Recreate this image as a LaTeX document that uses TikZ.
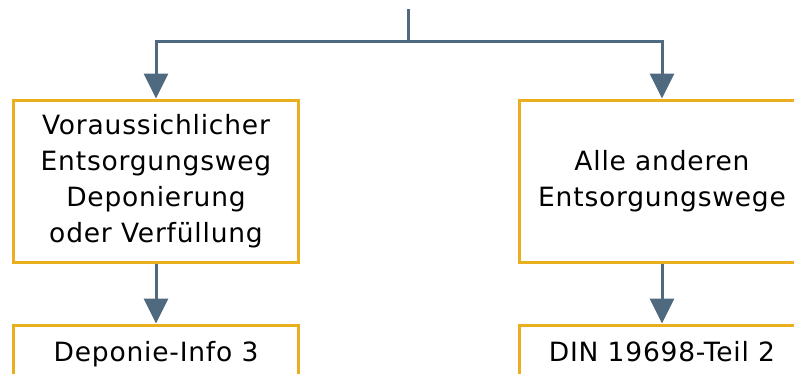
\documentclass[tikz,border=0pt]{standalone}
\usepackage{fontspec}
\setmainfont{DejaVu Sans}[LetterSpace=3]
\usetikzlibrary{positioning, arrows.meta}
\definecolor{boxorange}{HTML}{E9AF1F}
\definecolor{flowgray}{HTML}{4F6A7F}
\tikzset{
	box/.style={draw=boxorange, line width=3pt, minimum width=285pt, minimum height=162pt, inner sep=0pt, align=center, font=\fontsize{26.5}{36}\selectfont}, % the yellow frames
	lowbox/.style={box, minimum height=0pt, inner ysep=17pt, text height=19pt, text depth=60pt}, % frames cut off at the bottom
	flow/.style={draw=flowgray, line width=3pt, -{Triangle[width=24pt, length=25pt]}}, % the grey arrows
}
\begin{document}
\begin{tikzpicture}[x=1pt, y=-1pt]
	\useasboundingbox (0,0) rectangle (794,373);
	\clip (0,0) rectangle (794,373);
	\node[box] (disposal) at (156,181) {Voraussichlicher\\Entsorgungsweg\\Deponierung\\oder Verfüllung};
	\node[box, right=218pt of disposal] (others) {Alle anderen\\Entsorgungswege};
	\node[lowbox, below=60pt of disposal] (info) {Deponie-Info 3};
	\node[lowbox, below=60pt of others] (din) {DIN 19698-Teil 2};
	\coordinate (root) at (408,9);
	\coordinate (split) at (408,41);
	\draw[flow, -] (root) -- (split);
	\draw[flow] (split) -| (disposal);
	\draw[flow] (split) -| (others);
	\draw[flow] (disposal) -- (info);
	\draw[flow] (others) -- (din);
\end{tikzpicture}
\end{document}
